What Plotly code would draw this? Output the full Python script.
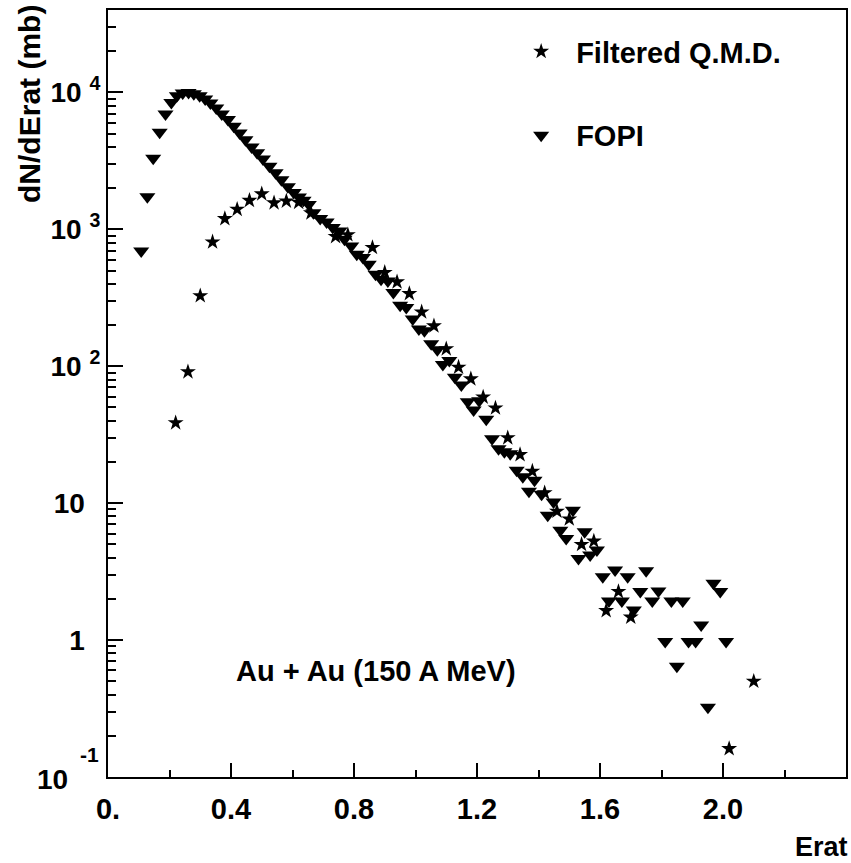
import plotly.graph_objects as go

# ---- data ----
qmd_x = [0.22, 0.26, 0.30, 0.34, 0.38, 0.42, 0.46, 0.50, 0.54, 0.58, 0.62, 0.66,
         0.74, 0.78, 0.86, 0.90, 0.94, 0.98, 1.02, 1.06, 1.10, 1.14, 1.18, 1.22,
         1.26, 1.30, 1.34, 1.38, 1.42, 1.46, 1.50, 1.54, 1.58, 1.62, 1.66, 1.70,
         2.02, 2.10]
qmd_y = [38.6, 91, 327, 808, 1196, 1400, 1626, 1815, 1560, 1607, 1574, 1318,
         885, 912, 736, 484, 413, 339, 249, 197, 134, 98.3, 80.8, 59.5,
         49.5, 30.0, 22.6, 17.1, 11.9, 8.73, 7.66, 4.99, 5.28, 1.64, 2.26, 1.47,
         0.161, 0.50]

fopi_x = [0.108, 0.128, 0.147, 0.168, 0.187, 0.206, 0.224, 0.243, 0.262, 0.279,
          0.298, 0.316, 0.333, 0.352, 0.370, 0.390, 0.409, 0.428, 0.447, 0.467,
          0.485, 0.504, 0.525, 0.545, 0.564, 0.585, 0.604, 0.621, 0.636, 0.653,
          0.668, 0.690, 0.711, 0.731, 0.753, 0.769, 0.791, 0.809, 0.829, 0.848,
          0.870, 0.888, 0.910, 0.928, 0.950, 0.970, 0.991, 1.011, 1.029, 1.051,
          1.071, 1.089, 1.110, 1.128, 1.149, 1.170, 1.189, 1.207, 1.230, 1.249,
          1.270, 1.289, 1.308, 1.329, 1.349, 1.369, 1.387, 1.410, 1.430, 1.449,
          1.471, 1.490, 1.512, 1.530, 1.550, 1.568, 1.590, 1.609, 1.629, 1.649,
          1.671, 1.690, 1.710, 1.731, 1.750, 1.770, 1.790, 1.812, 1.832, 1.850,
          1.869, 1.888, 1.911, 1.929, 1.951, 1.969, 1.991, 2.010]
fopi_y = [695, 1730, 3300, 5110, 6960, 8450, 9460, 9900, 10000, 9780,
          9460, 8950, 8370, 7700, 6960, 6330, 5650, 5060, 4520, 4000,
          3620, 3270, 2890, 2590, 2300, 2050, 1860, 1720, 1630, 1520,
          1320, 1200, 1130, 1030, 973, 846, 755, 657, 622, 556,
          470, 432, 420, 346, 279, 269, 221, 187, 182, 146,
          132, 103, 110, 83, 73, 55, 48, 56, 41, 29.5,
          25, 23.7, 23, 17.4, 15.6, 12.2, 14.7, 11.6, 8.17, 10.2,
          6.35, 5.52, 8.88, 3.95, 6.18, 4.18, 4.54, 2.90, 1.93, 3.25,
          1.93, 2.90, 1.66, 2.26, 3.21, 1.93, 2.28, 0.977, 1.93, 0.643,
          1.93, 0.977, 0.977, 1.29, 0.323, 2.60, 2.26, 0.977]

x_tick_vals = [0, 0.4, 0.8, 1.2, 1.6, 2.0, 2.4]
x_tick_text = ["0.", "0.4", "0.8", "1.2", "1.6", "2.0", ""]
NB = "\u00a0"
y_tick_vals = [0.1, 1, 10, 100, 1000, 10000]
y_tick_text = ["", "1" + NB * 2, "10" + NB * 2, "10 <sup>2</sup>", "10 <sup>3</sup>", "10 <sup>4</sup>"]
y_minor_vals = [m * 10 ** e for e in range(-1, 5) for m in range(2, 10)]

FONT = "Liberation Sans, Arial, Helvetica, sans-serif"
FS = 29

fig = go.Figure()
fig.add_trace(go.Scatter(
    x=fopi_x, y=fopi_y, mode="markers", name="FOPI",
    marker=dict(symbol="triangle-down", size=14, color="black"),
    legendgroup="b", legendrank=2))
fig.add_trace(go.Scatter(
    x=qmd_x, y=qmd_y, mode="markers", name="Filtered Q.M.D.",
    marker=dict(symbol="star", size=12, color="black"),
    legendgroup="a", legendrank=1))

fig.update_layout(
    width=851, height=863,
    margin=dict(l=108, r=5, t=10, b=86, autoexpand=False),
    paper_bgcolor="white", plot_bgcolor="white",
    font=dict(family=FONT, size=FS, color="black", weight="bold"),
    showlegend=True,
    legend=dict(x=0.5395, y=0.979, xanchor="left", yanchor="top",
                font=dict(family=FONT, size=FS, color="black", weight="bold"),
                bgcolor="rgba(0,0,0,0)", tracegroupgap=43, itemwidth=60),
    xaxis=dict(range=[0, 2.4], tickmode="array", tickvals=x_tick_vals, ticktext=x_tick_text,
               ticks="inside", ticklen=14, tickwidth=1.5, tickcolor="black",
               minor=dict(dtick=0.2, tick0=0, ticks="inside", ticklen=7, tickwidth=1.5, tickcolor="black"),
               showline=True, linewidth=2, linecolor="black", mirror=True,
               showgrid=False, zeroline=False, ticklabelstandoff=5, automargin=False,
               tickfont=dict(family=FONT, size=FS, weight="bold")),
    yaxis=dict(type="log", range=[-1, 4.602], tickmode="array", tickvals=y_tick_vals, ticktext=y_tick_text,
               ticks="inside", ticklen=15, tickwidth=1.5, tickcolor="black",
               minor=dict(tickmode="array", tickvals=y_minor_vals, ticks="inside", ticklen=8, tickwidth=1.5,
                          tickcolor="black", showgrid=False),
               showline=True, linewidth=2, linecolor="black", mirror=True,
               showgrid=False, zeroline=False, ticklabelstandoff=0, automargin=False,
               tickfont=dict(family=FONT, size=28, weight="bold")),
)

fig.add_annotation(text="-1", x=0, y=-1, xref="x", yref="y", xanchor="right", yanchor="middle",
                   xshift=-7, yshift=23, showarrow=False, font=dict(size=21))
fig.add_annotation(text="10", x=0, y=-1, xref="x", yref="y", xanchor="right", yanchor="middle",
                   xshift=-38, yshift=-2, showarrow=False, font=dict(size=28))
fig.add_annotation(text="Erat", x=1, y=-0.0913, xref="paper", yref="paper", xanchor="right",
                   yanchor="middle", xshift=4, showarrow=False, font=dict(size=27))
fig.add_annotation(text="dN/dErat (mb)", x=-0.1057, y=0.8775, xref="paper", yref="paper",
                   xanchor="center", yanchor="middle", textangle=-90, showarrow=False, font=dict(size=30))
fig.add_annotation(text="Au + Au (150 A MeV)", x=0.8715, y=-0.226, xref="x", yref="y",
                   xanchor="center", yanchor="middle", showarrow=False, font=dict(size=FS))

fig.write_html("out.html", config={"displayModeBar": False},
               post_script="document.body.style.margin='0';document.body.style.overflow='hidden';")
